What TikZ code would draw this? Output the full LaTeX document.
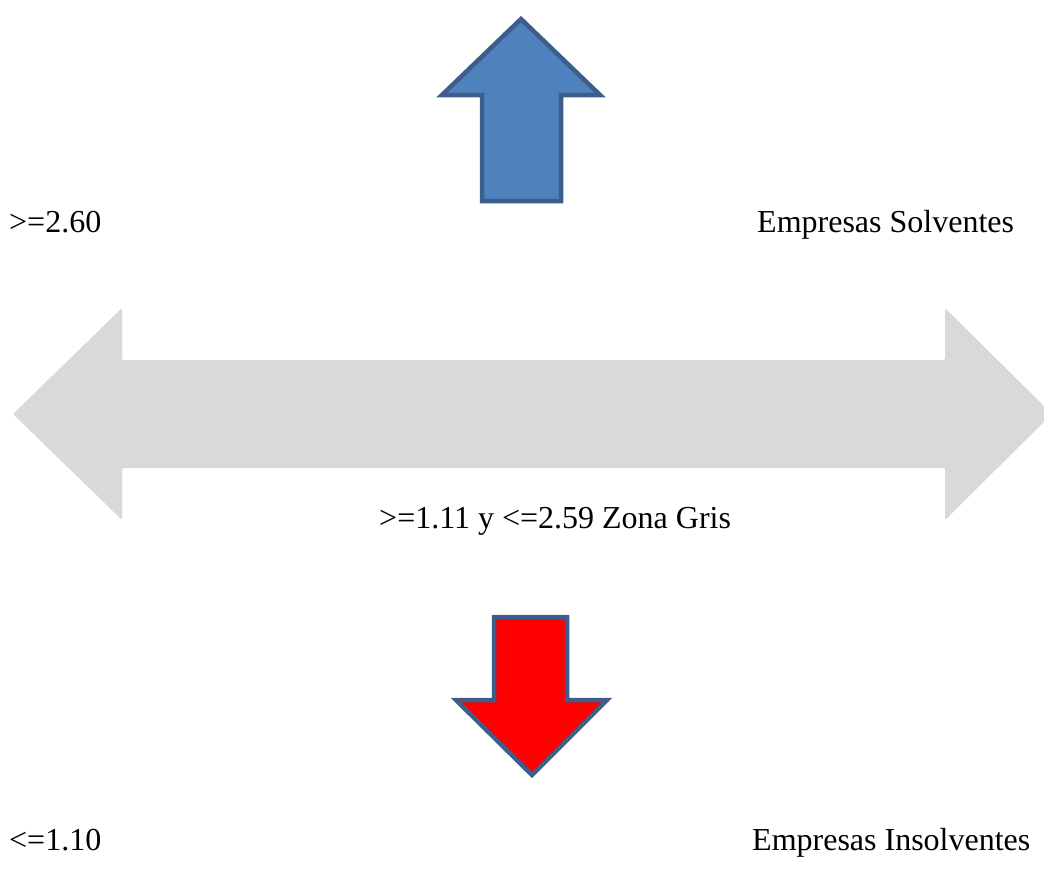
\documentclass[tikz,border=0pt]{standalone}
\usepackage{fontspec}
\setmainfont{Liberation Serif}
\definecolor{zonegray}{HTML}{D9D9D9}
\definecolor{solventblue}{HTML}{4F81BD}
\definecolor{outlineblue}{HTML}{3B5E8B}
\begin{document}
\begin{tikzpicture}[
        x=1pt, y=-1pt,
        zone/.style={
            fill=zonegray,
            draw=none,
            rounded corners=1.5pt
        },
        solvent/.style={
            fill=solventblue,
            draw=outlineblue,
            line width=4.5pt
        },
        insolvent/.style={
            fill=red,
            draw=outlineblue,
            line width=4.5pt
        },
        score/.style={
            inner sep=0pt,
            anchor=base west,
            font=\fontsize{32}{38}\selectfont
        }
    ]
        \useasboundingbox (0,0) rectangle (1044,878);
        \clip (0,0) rectangle (1044,878);

        % Grey zone (double arrow)
        \fill[zone] (13,414) -- (122,308) -- (122,360) -- (945,360) -- (945,308)
            -- (1052,414) -- (945,520) -- (945,468) -- (122,468) -- (122,520) -- cycle;

        % Solvent arrow (up)
        \draw[solvent] (521,19) -- (600,95) -- (561,95) -- (561,201)
            -- (482,201) -- (482,95) -- (442,95) -- cycle;

        % Insolvent arrow (down)
        \draw[insolvent] (494,617) -- (567,617) -- (567,700) -- (607,700)
            -- (532,775) -- (456,700) -- (494,700) -- cycle;

        % Scores
        \node[score] (solv-value) at (9,232) {>=2.60};
        \node[score] (solv-text) at (757,232) {Empresas Solventes};
        \node[score] (gray-value) at (379,528) {>=1.11 y <=2.59 Zona Gris};
        \node[score] (insolv-value) at (9,850) {<=1.10};
        \node[score] (insolv-text) at (752,850) {Empresas Insolventes};
    \end{tikzpicture}
\end{document}
